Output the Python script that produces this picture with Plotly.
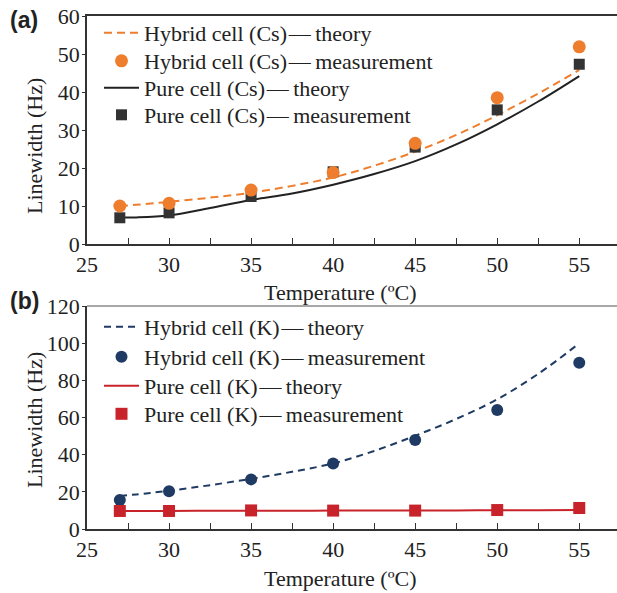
import plotly.graph_objects as go

# ---- data ----
temps = [27, 30, 35, 40, 45, 50, 55]
theory_t = [27, 28, 30, 32.5, 35, 37.5, 40, 42.5, 45, 47.5, 50, 52.5, 55]

cs_hybrid_meas = [10.0, 10.7, 14.2, 18.8, 26.5, 38.5, 51.9]
cs_pure_meas = [6.9, 8.2, 12.5, 19.0, 25.5, 35.3, 47.3]
cs_hybrid_theory = [10.0, 10.3, 11.1, 12.2, 13.5, 15.3, 17.5, 20.6, 24.3, 28.7, 33.9, 39.6, 45.8]
cs_pure_theory = [7.0, 7.0, 7.5, 9.5, 11.6, 13.3, 15.6, 18.4, 21.8, 26.2, 31.5, 37.5, 44.2]

k_hybrid_meas = [15.6, 20.3, 26.7, 35.2, 47.9, 64.0, 89.5]
k_pure_meas = [9.7, 9.7, 10.0, 9.9, 9.9, 10.2, 11.3]
k_hybrid_theory = [17.8, 18.6, 20.6, 23.6, 27.0, 30.8, 35.3, 42.0, 50.2, 59.2, 69.8, 83.5, 99.9]
k_pure_theory = [9.7, 9.7, 9.7, 9.8, 9.8, 9.8, 9.9, 9.9, 10.0, 10.0, 10.1, 10.1, 10.2]

x_ticks = [25, 30, 35, 40, 45, 50, 55]
top_y_ticks = [0, 10, 20, 30, 40, 50, 60]
bot_y_ticks = [0, 20, 40, 60, 80, 100, 120]

ORANGE = "#EE7E2D"
DARK = "#333333"
NAVY = "#1F3B63"
RED = "#C8232B"
SERIF = "Liberation Serif, Times New Roman, serif"
TXT = "#222222"
SEP = "\u200a\u2014\u2009"

# ---- pixel geometry helpers ----
WIDTH, HEIGHT = 617, 593
ML, MR, MT, MB = 87, 0, 16, 64
PW = WIDTH - ML - MR
PH = HEIGHT - MT - MB


def px(xp):
    return (xp - ML) / PW


def py(yp):
    return (HEIGHT - MB - yp) / PH


fig = go.Figure()

# top panel (Cs)
fig.add_trace(go.Scatter(x=theory_t, y=cs_hybrid_theory, mode="lines", line_shape="spline",
                         line=dict(color=ORANGE, width=2, dash="8px,5px"),
                         name="Hybrid cell (Cs)" + SEP + "theory", legend="legend", xaxis="x", yaxis="y"))
fig.add_trace(go.Scatter(x=theory_t, y=cs_pure_theory, mode="lines", line_shape="spline",
                         line=dict(color="#222222", width=2),
                         name="Pure cell (Cs)" + SEP + "theory", legend="legend3", xaxis="x", yaxis="y"))
fig.add_trace(go.Scatter(x=temps, y=cs_pure_meas, mode="markers",
                         marker=dict(color=DARK, size=11, symbol="square"),
                         name="Pure cell (Cs)" + SEP + "measurement", legend="legend4", xaxis="x", yaxis="y"))
fig.add_trace(go.Scatter(x=temps, y=cs_hybrid_meas, mode="markers",
                         marker=dict(color=ORANGE, size=13, symbol="circle"),
                         name="Hybrid cell (Cs)" + SEP + "measurement", legend="legend2", xaxis="x", yaxis="y"))

# bottom panel (K)
fig.add_trace(go.Scatter(x=theory_t, y=k_hybrid_theory, mode="lines", line_shape="spline",
                         line=dict(color=NAVY, width=2, dash="7px,5px"),
                         name="Hybrid cell (K)" + SEP + "theory", legend="legend5", xaxis="x2", yaxis="y2"))
fig.add_trace(go.Scatter(x=theory_t, y=k_pure_theory, mode="lines", line_shape="spline",
                         line=dict(color=RED, width=2),
                         name="Pure cell (K)" + SEP + "theory", legend="legend7", xaxis="x2", yaxis="y2"))
fig.add_trace(go.Scatter(x=temps, y=k_hybrid_meas, mode="markers",
                         marker=dict(color=NAVY, size=12, symbol="circle"),
                         name="Hybrid cell (K)" + SEP + "measurement", legend="legend6", xaxis="x2", yaxis="y2"))
fig.add_trace(go.Scatter(x=temps, y=k_pure_meas, mode="markers",
                         marker=dict(color=RED, size=12, symbol="square"),
                         name="Pure cell (K)" + SEP + "measurement", legend="legend8", xaxis="x2", yaxis="y2"))

xcommon = dict(range=[25, 57.3], tickvals=x_ticks, ticks="inside", ticklen=6, tickwidth=1,
               tickcolor="#333", showline=True, linecolor="#333", linewidth=1.5,
               showgrid=False, zeroline=False, minor=dict(dtick=2.5, tick0=25, ticks="inside",
                                                         ticklen=6, tickcolor="#333"),
               tickfont=dict(family=SERIF, size=22, color=TXT))
ycommon = dict(ticks="outside", ticklen=3, tickcolor="#333", showline=True, linecolor="#333",
               linewidth=1.5, mirror=False, showgrid=False, zeroline=False,
               ticklabelstandoff=-2,
               tickfont=dict(family=SERIF, size=22, color=TXT))

legend_common = dict(bgcolor="rgba(0,0,0,0)", font=dict(family=SERIF, size=22, color=TXT),
                     xanchor="left", yanchor="middle", itemwidth=35)

legend_rows = {
    "legend": 33, "legend2": 61, "legend3": 88, "legend4": 115,
    "legend5": 327, "legend6": 357, "legend7": 386, "legend8": 414,
}
legends = {k: dict(**legend_common, x=px(99), y=py(v)) for k, v in legend_rows.items()}


def label(text, xp, yp, angle=0, font=None):
    return dict(text=text, x=px(xp), y=py(yp), xref="paper", yref="paper", showarrow=False,
                xanchor="center", yanchor="middle", textangle=angle,
                font=font or dict(family=SERIF, size=22, color=TXT))


BOLD = dict(family="Liberation Sans, Arial, sans-serif", size=23, color=TXT)

fig.update_layout(
    width=WIDTH, height=HEIGHT,
    margin=dict(l=ML, r=MR, t=MT, b=MB),
    paper_bgcolor="white", plot_bgcolor="white",
    showlegend=True,
    xaxis=dict(**xcommon, anchor="y", domain=[0, 1], mirror=True),
    yaxis=dict(**ycommon, range=[0, 60], tickvals=top_y_ticks, anchor="x", domain=[py(244), 1.0]),
    xaxis2=dict(**xcommon, anchor="y2", domain=[0, 1], mirror=False),
    yaxis2=dict(**ycommon, range=[0, 120], tickvals=bot_y_ticks, anchor="x2", domain=[0, py(306)]),
    **legends,
    annotations=[
        label("<b>(a)</b>", 24, 20, font=BOLD),
        label("<b>(b)</b>", 24, 301, font=BOLD),
        label("Linewidth (Hz)", 34, 146, angle=-90),
        label("Linewidth (Hz)", 34, 420, angle=-90),
        label("Temperature (ºC)", 340, 292),
        label("Temperature (ºC)", 340, 578),
    ],
    shapes=[
        dict(type="line", xref="x2 domain", yref="y2 domain", x0=0, x1=1, y0=1, y1=1,
             line=dict(color="#8a8a8a", width=1.5)),
    ],
)

fig.write_html("out.html")
